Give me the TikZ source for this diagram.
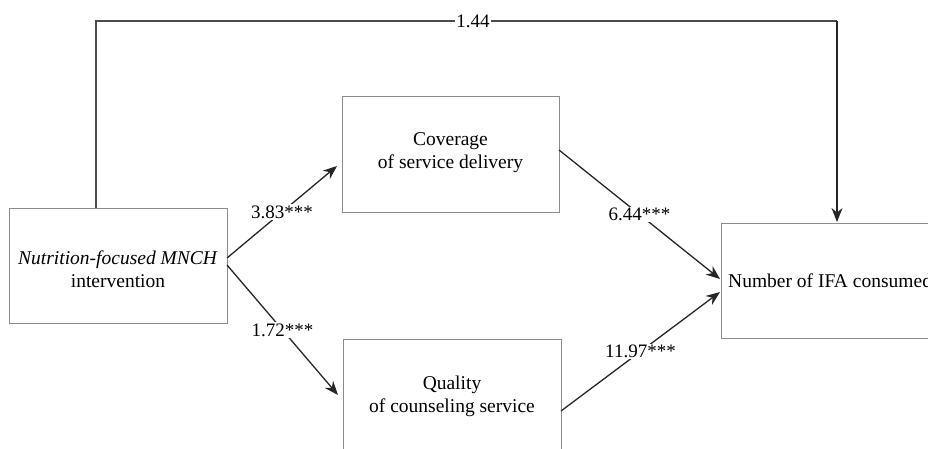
\documentclass[tikz,border=0pt]{standalone}
\usepackage{fontspec}
\setmainfont{Liberation Serif}
\usetikzlibrary{arrows.meta}
\begin{document}
\begin{tikzpicture}[x=1pt,y=-1pt,
  boxline/.style={draw=black!45,line width=1pt},
  conn/.style={draw=black!85,line width=1.3pt},
  arr/.style={conn,-{Stealth[length=14pt,width=11pt]}},
  lbl/.style={fill=white,inner sep=1.5pt,font=\fontsize{19}{22}\selectfont},
  txt/.style={font=\fontsize{19.5}{23}\selectfont,align=center,inner sep=0pt}]
\useasboundingbox (0,0) rectangle (928,449);
\begin{scope}
\clip (0,0) rectangle (928,449);
% boxes
\draw[boxline] (9,208) rectangle (227,323);
\draw[boxline] (342,97) rectangle (559,212);
\draw[boxline] (343,339) rectangle (561,470);
\draw[boxline] (721,223) rectangle (940,338);
\node[txt,anchor=west] (ifa) at (728,281) {Number of IFA consumed};
\end{scope}
% text nodes
\node[txt] (nut) at (118,269) {\textit{Nutrition-focused MNCH}\\intervention};
\node[txt] (cov) at (450.5,153) {Coverage\\of service delivery};
\node[txt] (qual) at (452,396) {Quality\\of counseling service};
% anchor coordinates
\coordinate (nutT) at (96,208);
\coordinate (nutA) at (227,258);
\coordinate (nutB) at (227,265);
\coordinate (covL) at (337,166);
\coordinate (covR) at (559,150);
\coordinate (qualL) at (338,395);
\coordinate (qualR) at (561,411);
\coordinate (ifaA) at (720,279);
\coordinate (ifaB) at (720,292);
\coordinate (ifaT) at (837,222);
\coordinate (c1) at (96,21);
\coordinate (c2) at (837,21);
% top path
\draw[conn,line width=1.6pt,draw=black!70] (nutT) -- (c1) -- (c2);
\draw[arr] (c2) -- (ifaT);
\node[lbl] (l144) at (473,21) {1.44};
% mediated paths
\draw[arr] (nutA) -- node[lbl] (l383) {3.83***} (covL);
\draw[arr] (nutB) -- node[lbl] (l172) {1.72***} (qualL);
\draw[arr] (covR) -- node[lbl] (l644) {6.44***} (ifaA);
\draw[arr] (qualR) -- node[lbl] (l1197) {11.97***} (ifaB);
\end{tikzpicture}
\end{document}
